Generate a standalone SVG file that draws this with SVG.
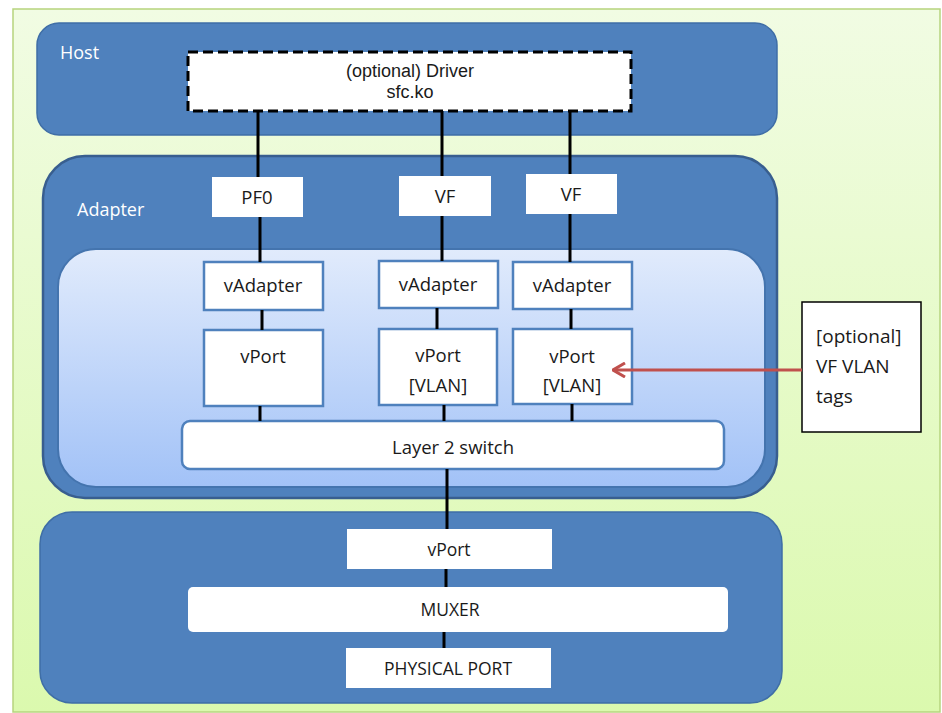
<svg xmlns="http://www.w3.org/2000/svg" width="942" height="713" viewBox="0 0 942 713">
<defs>
<linearGradient id="bg" x1="0" y1="0" x2="0" y2="1">
<stop offset="0" stop-color="#F1FCE3"/>
<stop offset="1" stop-color="#DBF9AE"/>
</linearGradient>
<linearGradient id="inner" x1="0" y1="0" x2="0" y2="1">
<stop offset="0" stop-color="#E1EBFC"/>
<stop offset="1" stop-color="#A2C2F7"/>
</linearGradient>
<marker id="chev" viewBox="0 0 14 16" refX="13" refY="8" markerWidth="14" markerHeight="16" markerUnits="userSpaceOnUse" orient="auto">
<path d="M1,1 L13,8 L1,15" fill="none" stroke="#C0504D" stroke-width="3"/>
</marker>
</defs>
<style>
.t{font-family:"Open Sans","Liberation Sans",sans-serif;font-size:18.5px;fill:#1a1a1a;text-anchor:middle}
.d{font-family:"Liberation Sans","Open Sans",sans-serif;font-size:18px;fill:#1a1a1a;text-anchor:middle}
.n{font-family:"Open Sans","Liberation Sans",sans-serif;font-size:19px;fill:#1a1a1a}
.b{font-family:"Open Sans","Liberation Sans",sans-serif;font-size:17.5px;fill:#1a1a1a;text-anchor:middle}
.w{font-family:"Open Sans","Liberation Sans",sans-serif;font-size:18px;fill:#ffffff}
.box{fill:#ffffff}
.vbox{fill:#ffffff;stroke:#4F81BD;stroke-width:2.5}
.blue{fill:#4F81BD}
.link{stroke:#000000;stroke-width:3;fill:none}
</style>
<rect x="13" y="9" width="927" height="703" fill="url(#bg)" stroke="#B6D47E" stroke-width="1.5"/>

<g id="host">
<rect x="37" y="23" width="740" height="112" rx="22" class="blue" stroke="#3F6EA6" stroke-width="1.5"/>
<text x="60" y="59" class="w">Host</text>
</g>
<g id="driver">
<rect x="188" y="52" width="443" height="59" fill="#ffffff" stroke="#000000" stroke-width="3" stroke-dasharray="10,5"/>
<text x="410" y="77" class="d">(optional) Driver</text>
<text x="410" y="98" class="d">sfc.ko</text>
</g>

<g id="adapter">
<rect x="43" y="156" width="734" height="342" rx="42" class="blue" stroke="#385E8F" stroke-width="2.5"/>
<rect x="58" y="249" width="707" height="238" rx="38" fill="url(#inner)" stroke="#4474AE" stroke-width="2"/>
<text x="77" y="216" class="w">Adapter</text>
</g>

<g id="pf0"><rect x="212" y="177" width="91" height="40" class="box"/><text x="257" y="204" class="t">PF0</text></g>
<g id="vf1"><rect x="399" y="176" width="92" height="40" class="box"/><text x="445" y="203" class="t">VF</text></g>
<g id="vf2"><rect x="526" y="174" width="91" height="40" class="box"/><text x="571" y="201" class="t">VF</text></g>

<g id="vadapter1"><rect x="204" y="262" width="119" height="48" class="vbox"/><text x="263" y="292" class="t">vAdapter</text></g>
<g id="vadapter2"><rect x="379" y="261" width="119" height="47" class="vbox"/><text x="438" y="291" class="t">vAdapter</text></g>
<g id="vadapter3"><rect x="513" y="262" width="119" height="47" class="vbox"/><text x="572" y="292" class="t">vAdapter</text></g>

<g id="vport1"><rect x="204" y="330" width="119" height="76" class="vbox"/><text x="263" y="363" class="t">vPort</text></g>
<g id="vport2"><rect x="379" y="329" width="118" height="76" class="vbox"/><text x="438" y="362" class="t">vPort</text><text x="438" y="392" class="t">[VLAN]</text></g>
<g id="vport3"><rect x="513" y="329" width="119" height="75" class="vbox"/><text x="572" y="363" class="t">vPort</text><text x="572" y="392" class="t">[VLAN]</text></g>

<g id="switch"><rect x="182" y="421" width="542" height="48" rx="8" class="vbox"/><text x="453" y="454" class="t">Layer 2 switch</text></g>

<g id="port">
<rect x="40" y="512" width="742" height="191" rx="32" class="blue" stroke="#3F6EA6" stroke-width="1.5"/>
</g>
<g id="vport-phys"><rect x="347" y="529" width="205" height="40" class="box"/><text x="449" y="556" class="b">vPort</text></g>
<g id="muxer"><rect x="188" y="587" width="540" height="45" rx="5" class="box"/><text x="450" y="616" class="b">MUXER</text></g>
<g id="physical"><rect x="346" y="648" width="205" height="40" class="box"/><text x="448" y="675" class="b">PHYSICAL PORT</text></g>

<g id="note">
<rect x="802" y="302" width="119" height="130" fill="#ffffff" stroke="#000000" stroke-width="1.5"/>
<text x="816" y="343" class="n">[optional]</text>
<text x="816" y="373" class="n">VF VLAN</text>
<text x="816" y="403" class="n">tags</text>
</g>

<g id="connectors">
<line x1="258" y1="111" x2="258" y2="177" class="link"/>
<line x1="442" y1="111" x2="442" y2="176" class="link"/>
<line x1="570" y1="111" x2="570" y2="174" class="link"/>
<line x1="260" y1="217" x2="260" y2="262" class="link"/>
<line x1="442" y1="216" x2="442" y2="261" class="link"/>
<line x1="570" y1="214" x2="570" y2="262" class="link"/>
<line x1="262" y1="310" x2="262" y2="330" class="link"/>
<line x1="437" y1="308" x2="437" y2="329" class="link"/>
<line x1="571" y1="309" x2="571" y2="329" class="link"/>
<line x1="260" y1="406" x2="260" y2="421" class="link"/>
<line x1="444" y1="405" x2="444" y2="421" class="link"/>
<line x1="572" y1="404" x2="572" y2="421" class="link"/>
<line x1="447" y1="469" x2="447" y2="529" class="link"/>
<line x1="446" y1="569" x2="446" y2="587" class="link"/>
<line x1="444" y1="632" x2="444" y2="648" class="link"/>
<line x1="802" y1="370" x2="613" y2="370" stroke="#C0504D" stroke-width="3" marker-end="url(#chev)"/>
</g>
</svg>
